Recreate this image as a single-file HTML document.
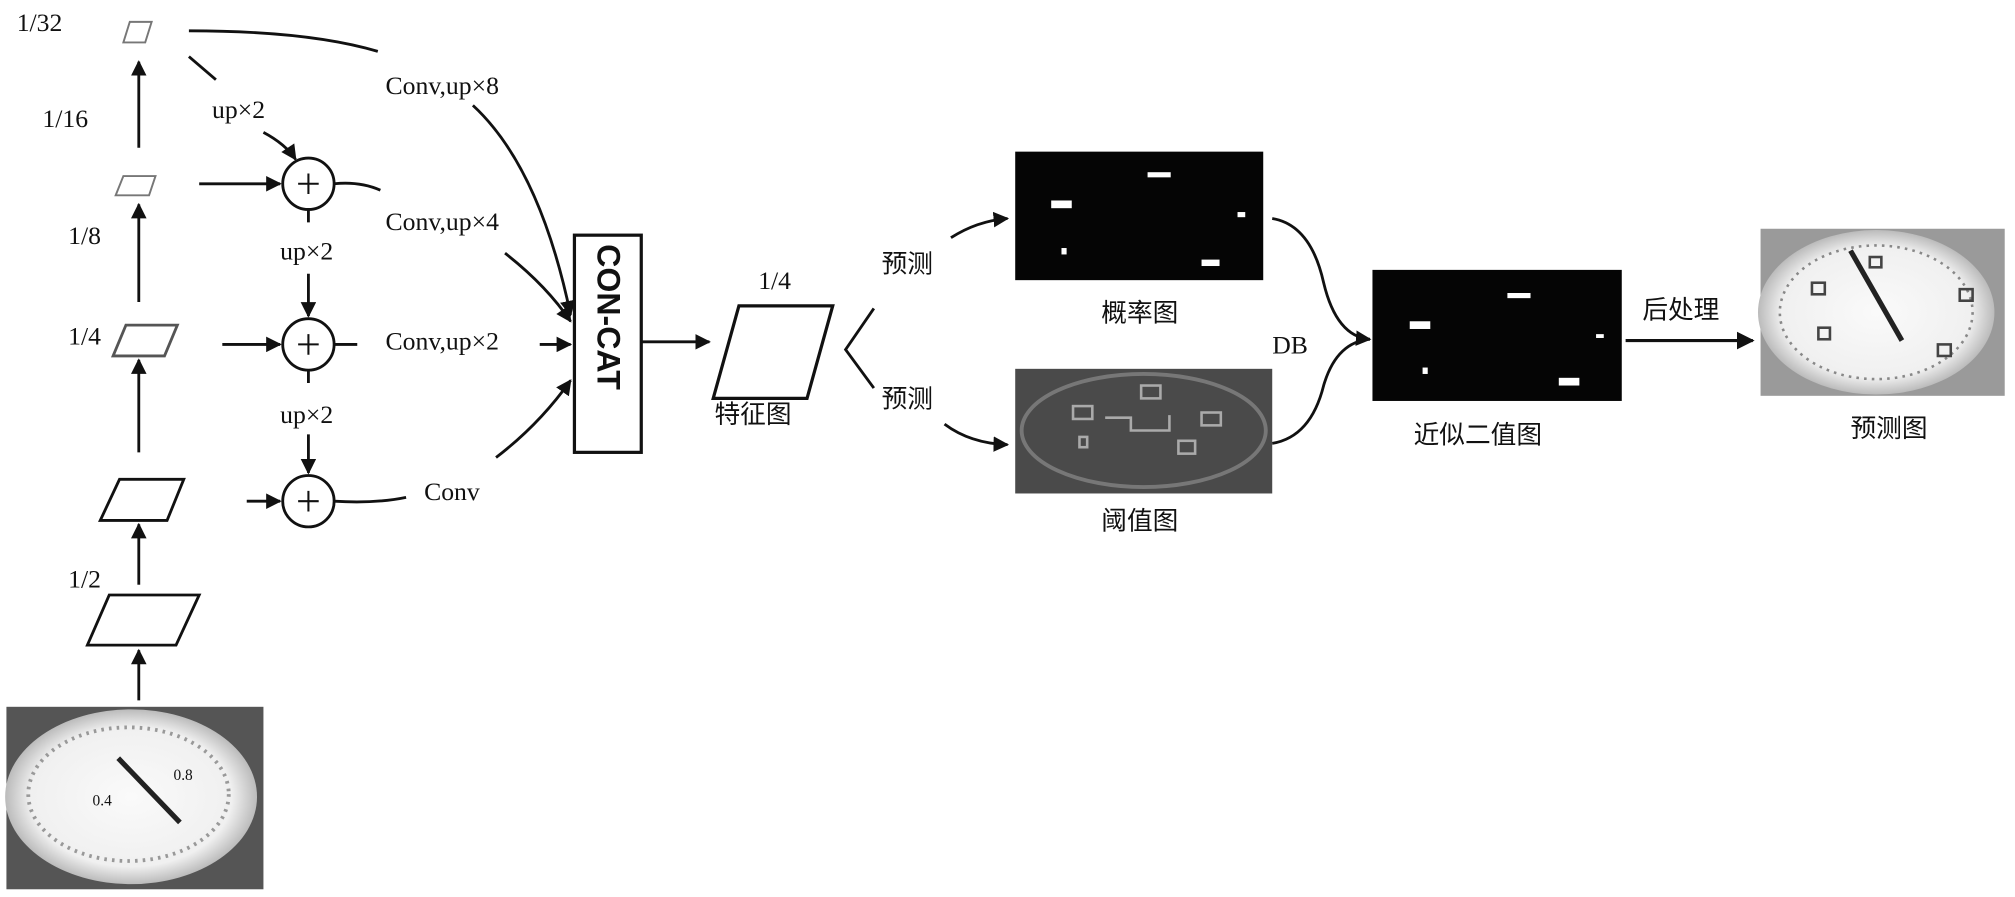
<!DOCTYPE html>
<html><head><meta charset="utf-8"><style>
html,body{margin:0;padding:0;background:#fff;}
svg{display:block}
text{font-family:"Liberation Serif","Noto Serif CJK SC",serif;fill:#111}
.cj{font-family:"Liberation Serif","Noto Sans CJK SC",sans-serif}
</style></head><body>
<svg width="2015" height="897" viewBox="0 0 1568 698" xmlns="http://www.w3.org/2000/svg">
<defs>
<marker id="a" viewBox="0 0 10 10" refX="9" refY="5" markerWidth="5.5" markerHeight="5.5" orient="auto-start-reverse"><path d="M0,0L10,5L0,10z" fill="#111"/></marker>
<radialGradient id="dial" cx="50%" cy="50%" r="50%"><stop offset="0" stop-color="#fafafa"/><stop offset="0.8" stop-color="#f0f0f0"/><stop offset="1" stop-color="#bbb"/></radialGradient>
</defs>
<g stroke="#111" stroke-width="2.2" fill="none">
<path d="M101,17 L118,17 L113,33 L96,33Z" stroke="#777" stroke-width="1.5"/>
<path d="M96,137 L121,137 L116,152 L90,152Z" stroke="#777" stroke-width="1.5"/>
<path d="M98,253 L138,253 L128,277 L88,277Z" stroke="#555"/>
<path d="M93,373 L143,373 L130,405 L78,405Z"/>
<path d="M85,463 L155,463 L137,502 L68,502Z"/>
<path d="M108,545 L108,506" marker-end="url(#a)"/>
<path d="M108,455 L108,408" marker-end="url(#a)"/>
<path d="M108,352 L108,280" marker-end="url(#a)"/>
<path d="M108,235 L108,159" marker-end="url(#a)"/>
<path d="M108,115 L108,48" marker-end="url(#a)"/>
<circle cx="240" cy="143" r="20"/><circle cx="240" cy="268" r="20"/><circle cx="240" cy="390" r="20"/>
<path d="M232,143h16M240,135v16M232,268h16M240,260v16M232,390h16M240,382v16" stroke-width="1.6"/>
<path d="M240,163v10M260,268h18M240,288v10"/>
<path d="M155,143 L218,143" marker-end="url(#a)"/>
<path d="M173,268 L218,268" marker-end="url(#a)"/>
<path d="M192,390 L218,390" marker-end="url(#a)"/>
<path d="M147,44 L168,62"/>
<path d="M205,103 Q222,112 230,124" marker-end="url(#a)"/>
<path d="M240,213 L240,246" marker-end="url(#a)"/>
<path d="M240,338 L240,368" marker-end="url(#a)"/>
<path d="M147,24 Q240,24 294,40"/>
<path d="M368,82 Q420,130 444,245" marker-end="url(#a)"/>
<path d="M260,143 Q280,141 296,148"/>
<path d="M393,197 Q425,222 444,250" marker-end="url(#a)"/>
<path d="M420,268 L444,268" marker-end="url(#a)"/>
<path d="M260,390 Q292,392 316,387"/>
<path d="M386,356 Q420,330 444,296" marker-end="url(#a)"/>
<rect x="447" y="183" width="52" height="169" stroke-width="2.5"/>
<path d="M499,266 L552,266" marker-end="url(#a)"/>
<path d="M575,238 L648,238 L628,310 L555,310Z" stroke-width="2.5"/>
<path d="M680,240 L658,272 L680,302"/>
<path d="M740,185 Q760,172 784,170" marker-end="url(#a)"/>
<path d="M735,330 Q755,345 784,346" marker-end="url(#a)"/>
<path d="M990,170 Q1020,175 1030,220 Q1040,262 1066,264" marker-end="url(#a)"/>
<path d="M990,345 Q1020,340 1030,300 Q1040,266 1066,264"/>
<path d="M1265,265 L1364,265" marker-end="url(#a)" stroke-width="2.5"/>
</g>
<g font-size="20">
<text x="13" y="24">1/32</text><text x="33" y="99">1/16</text><text x="53" y="190">1/8</text>
<text x="53" y="268">1/4</text><text x="53" y="457">1/2</text>
<text x="165" y="92">up×2</text><text x="218" y="202">up×2</text><text x="218" y="329">up×2</text>
<text x="300" y="73">Conv,up×8</text><text x="300" y="179">Conv,up×4</text><text x="300" y="272">Conv,up×2</text>
<text x="330" y="389">Conv</text>
<text x="590" y="225">1/4</text>
<text x="990" y="275">DB</text>
</g>
<text x="0" y="0" font-size="25" font-weight="bold" style="font-family:'Liberation Sans',sans-serif" transform="translate(465,190) rotate(90)">CON-CAT</text>
<g class="cj" font-size="20">
<text class="cj" x="556" y="329">特征图</text>
<text class="cj" x="686" y="212">预测</text>
<text class="cj" x="686" y="317">预测</text>
<text class="cj" x="857" y="250">概率图</text>
<text class="cj" x="857" y="412">阈值图</text>
<text class="cj" x="1100" y="345">近似二值图</text>
<text class="cj" x="1278" y="248">后处理</text>
<text class="cj" x="1440" y="340">预测图</text>
</g>
<rect x="790" y="118" width="193" height="100" fill="#050505"/>
<g fill="#fff"><rect x="893" y="134" width="18" height="4"/><rect x="818" y="156" width="16" height="6"/><rect x="963" y="165" width="6" height="4"/><rect x="826" y="193" width="4" height="5"/><rect x="935" y="202" width="14" height="5"/></g>
<rect x="790" y="287" width="200" height="97" fill="#4a4a4a"/>
<ellipse cx="890" cy="335" rx="95" ry="44" fill="none" stroke="#777" stroke-width="3"/>
<g fill="none" stroke="#aaa" stroke-width="2"><rect x="888" y="300" width="15" height="10"/><rect x="835" y="316" width="15" height="10"/><rect x="935" y="321" width="15" height="10"/><rect x="917" y="343" width="13" height="10"/><rect x="840" y="340" width="6" height="8"/><path d="M860,325h20v10h30v-12"/></g>
<rect x="1068" y="210" width="194" height="102" fill="#050505"/>
<g fill="#fff"><rect x="1173" y="228" width="18" height="4"/><rect x="1097" y="250" width="16" height="6"/><rect x="1242" y="260" width="6" height="3"/><rect x="1107" y="286" width="4" height="5"/><rect x="1213" y="294" width="16" height="6"/></g>
<rect x="1370" y="178" width="190" height="130" fill="#9a9a9a"/>
<ellipse cx="1460" cy="243" rx="92" ry="64" fill="url(#dial)"/>
<ellipse cx="1460" cy="243" rx="75" ry="52" fill="none" stroke="#888" stroke-width="2" stroke-dasharray="2 4"/>
<path d="M1440,195 L1480,265" stroke="#222" stroke-width="4"/>
<g fill="none" stroke="#444" stroke-width="2"><rect x="1410" y="220" width="10" height="9"/><rect x="1525" y="225" width="10" height="9"/><rect x="1415" y="255" width="9" height="9"/><rect x="1508" y="268" width="10" height="9"/><rect x="1455" y="200" width="9" height="8"/></g>
<rect x="5" y="550" width="200" height="142" fill="#555"/>
<ellipse cx="102" cy="620" rx="98" ry="68" fill="url(#dial)"/>
<ellipse cx="100" cy="618" rx="78" ry="52" fill="none" stroke="#999" stroke-width="3" stroke-dasharray="2 4"/>
<path d="M92,590 L140,640" stroke="#222" stroke-width="4"/>
<text x="135" y="607" font-size="12" fill="#555">0.8</text>
<text x="72" y="627" font-size="12" fill="#555">0.4</text>
</svg>
</body></html>
